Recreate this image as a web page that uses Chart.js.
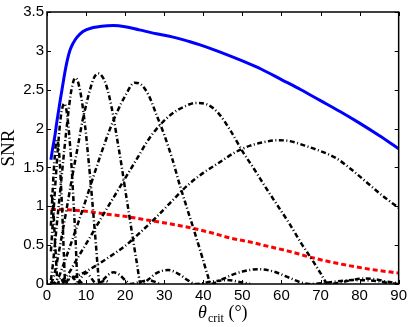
<!DOCTYPE html>
<html>
<head>
<meta charset="utf-8">
<script src="https://cdn.jsdelivr.net/npm/chart.js"></script>
<style>
  html, body { margin: 0; padding: 0; background: #fff; }
  #wrap { width: 410px; height: 327px; }
</style>
</head>
<body>
<div id="wrap"><canvas id="snrChart" width="410" height="327"></canvas></div>
<script>
// values
const xTicks = [0, 10, 20, 30, 40, 50, 60, 70, 80, 90];
const yTicks = [0, 0.5, 1, 1.5, 2, 2.5, 3, 3.5];

const blueX = [1, 1.5, 2, 2.5, 3, 3.5, 4, 4.6, 5.2, 5.9, 6.7, 7.6, 9.2, 11.8, 14, 17, 20, 23.6, 28, 32, 36.4, 39, 44, 50, 55, 60, 65, 70, 75, 80, 85, 90];
const blueY = [1.60, 1.76, 1.90, 2.08, 2.24, 2.40, 2.55, 2.73, 2.88, 3.01, 3.10, 3.17, 3.25, 3.30, 3.318, 3.325, 3.31, 3.27, 3.22, 3.18, 3.12, 3.08, 2.99, 2.87, 2.76, 2.63, 2.50, 2.36, 2.22, 2.07, 1.91, 1.74];

const redX = [1, 5, 10, 15, 20, 26, 32, 37, 42, 47, 52, 57, 62, 67, 72, 78, 84, 90];
const redY = [0.96, 0.955, 0.935, 0.90, 0.87, 0.82, 0.77, 0.72, 0.66, 0.59, 0.54, 0.48, 0.42, 0.35, 0.29, 0.23, 0.18, 0.14];

// dash-dot curves, one pair of arrays per lobe family
const aX = [1, 4, 8, 12, 16, 20, 24, 28, 32, 36, 40, 44, 48, 52, 56, 59, 62, 66, 70, 74, 78, 82, 86, 90];
const aY = [0.00, 0.03, 0.11, 0.22, 0.35, 0.49, 0.67, 0.86, 1.07, 1.27, 1.43, 1.56, 1.69, 1.78, 1.83, 1.85, 1.84, 1.78, 1.71, 1.62, 1.47, 1.30, 1.13, 0.98];

const bX = [1, 3, 5, 8, 11, 14, 17, 20, 23, 26, 29, 32, 35, 38, 41, 44, 47, 50, 53, 56, 59, 62, 65, 68, 70, 72, 75, 78, 81, 84, 87, 90];
const bY = [0.00, 0.02, 0.10, 0.35, 0.60, 0.86, 1.11, 1.36, 1.61, 1.86, 2.05, 2.19, 2.28, 2.33, 2.31, 2.19, 1.97, 1.71, 1.48, 1.24, 1.01, 0.78, 0.53, 0.30, 0.14, 0.00, 0.02, 0.05, 0.07, 0.06, 0.03, 0.01];

const cX = [1, 2, 3, 4, 6, 8, 10, 12, 14, 16, 18, 20, 22.4, 24, 26, 28, 30, 32, 34, 36, 38, 40, 41, 42, 44, 47, 50, 54, 58, 62, 65, 67, 72, 78, 84, 88, 90];
const cY = [0.00, 0.02, 0.09, 0.22, 0.50, 0.79, 1.09, 1.40, 1.70, 1.98, 2.22, 2.42, 2.59, 2.57, 2.43, 2.18, 1.92, 1.62, 1.27, 0.95, 0.63, 0.30, 0.13, 0.00, 0.04, 0.11, 0.16, 0.19, 0.16, 0.08, 0.02, 0.00, 0.02, 0.05, 0.04, 0.01, 0.00];

const dX = [1, 1.5, 2, 3, 4, 5, 6, 7, 8, 9, 10, 11, 12, 13.1, 14, 15, 16, 17, 18, 19, 20, 21, 22, 23, 24, 26, 28, 31, 34, 36, 38, 42, 46, 50, 52];
const dY = [0.01, 0.06, 0.15, 0.40, 0.68, 0.96, 1.25, 1.53, 1.80, 2.08, 2.30, 2.50, 2.65, 2.71, 2.68, 2.58, 2.40, 2.15, 1.85, 1.55, 1.22, 0.90, 0.58, 0.27, 0.00, 0.06, 0.14, 0.18, 0.12, 0.05, 0.00, 0.03, 0.05, 0.02, 0.00];

const eX = [1, 1.5, 2, 2.5, 3, 3.5, 4, 4.5, 5, 5.5, 6, 6.5, 7.2, 7.8, 8.5, 9, 9.5, 10, 10.5, 11, 11.5, 12, 12.5, 13, 13.4, 14.5, 16, 17, 18.5, 20, 21.5, 24, 26, 28, 29];
const eY = [0.05, 0.25, 0.50, 0.76, 1.01, 1.26, 1.51, 1.76, 2.00, 2.22, 2.42, 2.56, 2.65, 2.62, 2.48, 2.33, 2.14, 1.92, 1.66, 1.40, 1.12, 0.82, 0.52, 0.20, 0.00, 0.06, 0.13, 0.15, 0.12, 0.05, 0.00, 0.03, 0.05, 0.02, 0.00];

const fX = [1, 1.5, 2, 2.5, 3, 3.5, 4, 4.3, 4.8, 5.3, 5.8, 6.3, 6.8, 7.3, 7.9, 8.5, 9.5, 10.3, 11, 12, 12.7, 14, 15, 16];
const fY = [0.42, 0.80, 1.18, 1.55, 1.88, 2.14, 2.28, 2.32, 2.28, 2.12, 1.85, 1.50, 1.05, 0.58, 0.00, 0.06, 0.13, 0.14, 0.10, 0.03, 0.00, 0.03, 0.04, 0.01];

const gX = [1, 1.5, 2, 2.5, 3, 3.5, 4, 4.3, 4.7, 5.5, 6.2, 7, 7.4, 8.5, 9.2];
const gY = [0.75, 1.25, 1.65, 1.85, 1.75, 1.35, 0.80, 0.40, 0.00, 0.07, 0.11, 0.06, 0.00, 0.03, 0.00];

const hX = [1, 1.5, 2, 2.5, 2.7, 3.2, 3.7, 4.2, 4.4];
const hY = [1.15, 1.05, 0.60, 0.15, 0.00, 0.06, 0.08, 0.02, 0.00];

function pts(xs, ys) {
  return xs.map((x, i) => ({ x: x, y: ys[i] }));
}

function dashDot(xs, ys) {
  return {
    data: pts(xs, ys),
    borderColor: '#000000',
    borderWidth: 2.5,
    borderDash: [5, 2.5, 1, 2.5],
    pointRadius: 0,
    showLine: true,
    cubicInterpolationMode: 'monotone'
  };
}

const datasets = [
  dashDot(hX, hY), dashDot(gX, gY), dashDot(fX, fY), dashDot(eX, eY),
  dashDot(dX, dY), dashDot(cX, cY), dashDot(bX, bY), dashDot(aX, aY),
  {
    data: pts(redX, redY),
    borderColor: '#ff0000',
    borderWidth: 3,
    borderDash: [5, 3],
    pointRadius: 0,
    showLine: true,
    cubicInterpolationMode: 'monotone'
  },
  {
    data: pts(blueX, blueY),
    borderColor: '#0000ff',
    borderWidth: 3,
    pointRadius: 0,
    showLine: true,
    cubicInterpolationMode: 'monotone'
  }
];

// box, inward ticks on all four sides, axis titles
const framePlugin = {
  id: 'frame',
  afterDraw(chart) {
    const ctx = chart.ctx;
    const a = chart.chartArea;
    const xs = chart.scales.x, ys = chart.scales.y;
    ctx.save();
    ctx.strokeStyle = '#000';
    ctx.lineWidth = 1.5;
    ctx.strokeRect(a.left, a.top, a.right - a.left, a.bottom - a.top);
    ctx.lineWidth = 1;
    const len = 4;
    ctx.beginPath();
    xTicks.forEach(v => {
      const px = Math.round(xs.getPixelForValue(v)) + 0.5;
      ctx.moveTo(px, a.bottom); ctx.lineTo(px, a.bottom - len);
      ctx.moveTo(px, a.top); ctx.lineTo(px, a.top + len);
    });
    yTicks.forEach(v => {
      const py = Math.round(ys.getPixelForValue(v)) + 0.5;
      ctx.moveTo(a.left, py); ctx.lineTo(a.left + len, py);
      ctx.moveTo(a.right, py); ctx.lineTo(a.right - len, py);
    });
    ctx.stroke();

    // y title
    ctx.fillStyle = '#000';
    ctx.font = '19px "Liberation Serif", serif';
    ctx.textAlign = 'center';
    ctx.textBaseline = 'middle';
    ctx.translate(9, (a.top + a.bottom) / 2);
    ctx.rotate(-Math.PI / 2);
    ctx.fillText('SNR', 0, 0);
    ctx.restore();

    // x title: theta_crit (deg)
    ctx.save();
    ctx.fillStyle = '#000';
    ctx.textBaseline = 'alphabetic';
    ctx.textAlign = 'left';
    const fMain = 'italic 18px "Liberation Serif", serif';
    const fSub = '12px "Liberation Serif", serif';
    const fRom = '18px "Liberation Serif", serif';
    ctx.font = fMain; const w1 = ctx.measureText('\u03b8').width;
    ctx.font = fSub; const w2 = ctx.measureText('crit').width;
    ctx.font = fRom; const w3 = ctx.measureText(' (\u00b0)').width;
    let x0 = (a.left + a.right) / 2 - (w1 + 1 + w2 + w3) / 2;
    const base = 318;
    ctx.font = fMain; ctx.fillText('\u03b8', x0, base); x0 += w1 + 1;
    ctx.font = fSub; ctx.fillText('crit', x0, base + 4); x0 += w2;
    ctx.font = fRom; ctx.fillText(' (\u00b0)', x0, base);
    ctx.restore();
  }
};

new Chart(document.getElementById('snrChart').getContext('2d'), {
  type: 'scatter',
  data: { datasets: datasets },
  options: {
    responsive: false,
    animation: false,
    layout: { padding: { top: 5, right: 9, left: 0, bottom: 0 } },
    plugins: { legend: { display: false }, tooltip: { enabled: false } },
    scales: {
      x: {
        type: 'linear', min: 0, max: 90,
        afterFit: s => { s.height = 43; },
        afterBuildTicks: s => { s.ticks = xTicks.map(v => ({ value: v })); },
        grid: { display: false, drawTicks: false },
        border: { display: false },
        ticks: { color: '#000', padding: 3, font: { family: 'Liberation Sans', size: 15 },
                 callback: v => String(v) }
      },
      y: {
        type: 'linear', min: 0, max: 3.5,
        afterFit: s => { s.width = 47; },
        afterBuildTicks: s => { s.ticks = yTicks.map(v => ({ value: v })); },
        grid: { display: false, drawTicks: false },
        border: { display: false },
        ticks: { color: '#000', padding: 3, font: { family: 'Liberation Sans', size: 15 },
                 callback: v => String(v) }
      }
    }
  },
  plugins: [framePlugin]
});
</script>
</body>
</html>
